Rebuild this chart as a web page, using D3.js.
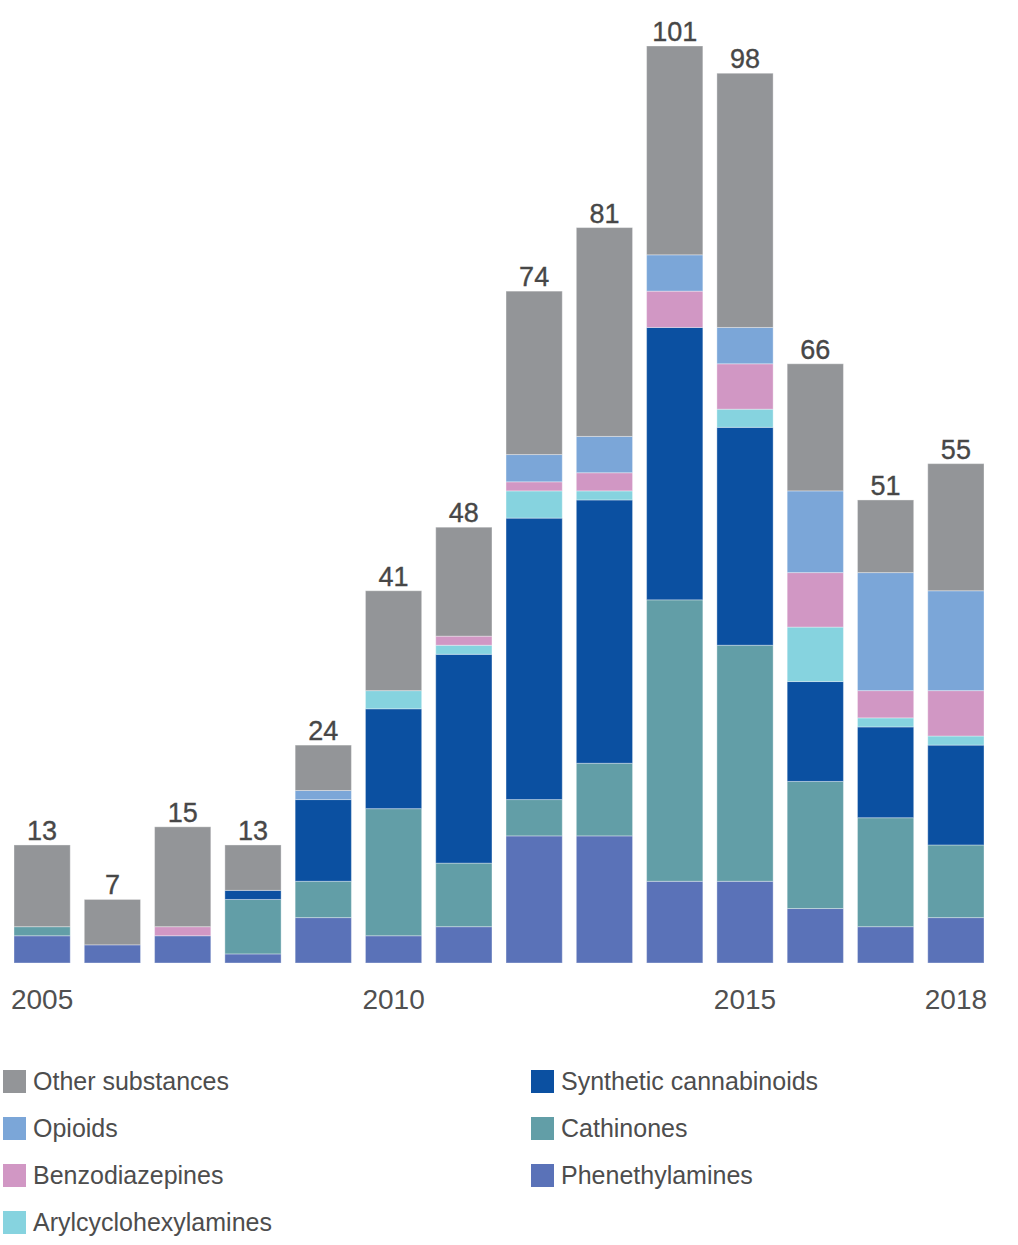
<!DOCTYPE html>
<html>
<head>
<meta charset="utf-8">
<script src="https://cdn.jsdelivr.net/npm/d3@7"></script>
<style>
  body { margin: 0; background: #fff; }
  svg { display: block; font-family: "Liberation Sans", Arial, Helvetica, sans-serif; }
</style>
</head>
<body>
<div id="mount"></div>
<script>
// years along the x axis, and which of them get a label
var years = [2005, 2006, 2007, 2008, 2009, 2010, 2011, 2012, 2013, 2014, 2015, 2016, 2017, 2018];
var tickYears = [2005, 2010, 2015, 2018];

// counts per substance group, bottom of the stack first
var phenethylamines       = [3, 2, 3, 1, 5, 3, 4, 14, 14, 9, 9, 6, 4, 5];
var cathinones            = [1, 0, 0, 6, 4, 14, 7, 4, 8, 31, 26, 14, 12, 8];
var syntheticCannabinoids = [0, 0, 0, 1, 9, 11, 23, 31, 29, 30, 24, 11, 10, 11];
var arylcyclohexylamines  = [0, 0, 0, 0, 0, 2, 1, 3, 1, 0, 2, 6, 1, 1];
var benzodiazepines       = [0, 0, 1, 0, 0, 0, 1, 1, 2, 4, 5, 6, 3, 5];
var opioids               = [0, 0, 0, 0, 1, 0, 0, 3, 4, 4, 4, 9, 13, 11];
var otherSubstances       = [9, 5, 11, 5, 5, 11, 12, 18, 23, 23, 28, 14, 8, 14];

var series = [
  { key: 'phen',  name: 'Phenethylamines',        values: phenethylamines,       color: '#5a72b8' },
  { key: 'cath',  name: 'Cathinones',             values: cathinones,            color: '#629ea7' },
  { key: 'synth', name: 'Synthetic cannabinoids', values: syntheticCannabinoids, color: '#0b50a1' },
  { key: 'aryl',  name: 'Arylcyclohexylamines',   values: arylcyclohexylamines,  color: '#86d3df' },
  { key: 'benzo', name: 'Benzodiazepines',        values: benzodiazepines,       color: '#d197c4' },
  { key: 'opi',   name: 'Opioids',                values: opioids,               color: '#7ba6d8' },
  { key: 'other', name: 'Other substances',       values: otherSubstances,       color: '#939598' }
];

// legend layout: two columns, order as in the original
var legendLeft  = ['other', 'opi', 'benzo', 'aryl'];
var legendRight = ['synth', 'cath', 'phen'];

var width = 1018, height = 1245;

var svg = d3.select('#mount').append('svg')
    .attr('width', width)
    .attr('height', height);

// build rows for d3.stack
var rows = years.map(function (y, i) {
  var row = { year: y };
  series.forEach(function (s) { row[s.key] = s.values[i]; });
  return row;
});
var totals = rows.map(function (r) {
  return d3.sum(series, function (s) { return r[s.key]; });
});

var stack = d3.stack().keys(series.map(function (s) { return s.key; }));
var stacked = stack(rows);

var x = d3.scaleBand()
    .domain(years)
    .range([14, 984])
    .paddingInner(0.2)
    .paddingOuter(0);

var y = d3.scaleLinear()
    .domain([0, 101])
    .range([963, 46]);

var color = d3.scaleOrdinal()
    .domain(series.map(function (s) { return s.key; }))
    .range(series.map(function (s) { return s.color; }));

// stacked bars
svg.append('g')
  .selectAll('g')
  .data(stacked)
  .enter().append('g')
    .attr('fill', function (d) { return color(d.key); })
  .selectAll('rect')
  .data(function (d) { return d; })
  .enter().append('rect')
    .filter(function (d) { return d[1] > d[0]; })
    .attr('x', function (d) { return x(d.data.year); })
    .attr('width', x.bandwidth())
    .attr('y', function (d) { return y(d[1]); })
    .attr('height', function (d) { return y(d[0]) - y(d[1]); })
    .attr('stroke', '#ffffff')
    .attr('stroke-opacity', 0.35)
    .attr('stroke-width', 1);

// totals above each bar (a hairline stroke gives them a medium weight)
svg.append('g')
  .selectAll('text')
  .data(years)
  .enter().append('text')
    .attr('x', function (d) { return x(d) + x.bandwidth() / 2; })
    .attr('y', function (d, i) { return y(totals[i]) - 5; })
    .attr('text-anchor', 'middle')
    .attr('font-size', 27)
    .attr('fill', '#474747')
    .attr('stroke', '#474747')
    .attr('stroke-width', 0.35)
    .text(function (d, i) { return totals[i]; });

// x axis: labels only
var xAxis = d3.axisBottom(x)
    .tickValues(tickYears)
    .tickSize(0)
    .tickPadding(0);

var gx = svg.append('g')
    .attr('transform', 'translate(0, 1009)')
    .call(xAxis);
gx.select('.domain').remove();
gx.selectAll('text')
    .attr('dy', 0)
    .attr('font-size', 28)
    .attr('font-family', '"Liberation Sans", Arial, sans-serif')
    .attr('fill', '#505050');

// legend
function drawLegend(keys, left) {
  var g = svg.append('g');
  var item = g.selectAll('g')
    .data(keys)
    .enter().append('g')
      .attr('transform', function (d, i) { return 'translate(' + left + ',' + (1070 + i * 47) + ')'; });
  item.append('rect')
    .attr('width', 23)
    .attr('height', 23)
    .attr('fill', function (d) { return color(d); });
  item.append('text')
    .attr('x', 30)
    .attr('y', 20)
    .attr('font-size', 25)
    .attr('fill', '#4d4d4d')
    .text(function (d) { return series.find(function (s) { return s.key === d; }).name; });
}
drawLegend(legendLeft, 3);
drawLegend(legendRight, 531);
</script>
</body>
</html>
